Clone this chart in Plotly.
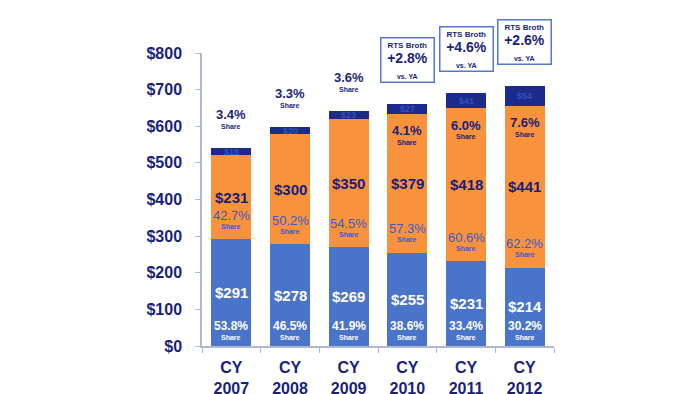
import plotly.graph_objects as go

categories = ["CY<br>2007", "CY<br>2008", "CY<br>2009", "CY<br>2010", "CY<br>2011", "CY<br>2012"]
base_values = [291, 278, 269, 255, 231, 214]
base_share = ["53.8%", "46.5%", "41.9%", "38.6%", "33.4%", "30.2%"]
mid_values = [231, 300, 350, 379, 418, 441]
mid_share = ["42.7%", "50.2%", "54.5%", "57.3%", "60.6%", "62.2%"]
top_values = [18, 20, 23, 27, 41, 54]
top_share = ["3.4%", "3.3%", "3.6%", "4.1%", "6.0%", "7.6%"]
rts_growth = [None, None, None, "+2.8%", "+4.6%", "+2.6%"]
y_ticks = [0, 100, 200, 300, 400, 500, 600, 700, 800]

BLUE = "#4a74c9"
ORANGE = "#f8923c"
NAVY = "#1c2a8c"
TXT = "#1a1f7a"
FONT = "Liberation Sans, Arial, sans-serif"

fig = go.Figure()
fig.add_bar(x=categories, y=base_values, marker_color=BLUE, marker_line_width=0)
fig.add_bar(x=categories, y=mid_values, marker_color=ORANGE, marker_line_width=0)
fig.add_bar(x=categories, y=top_values, marker_color=NAVY, marker_line_width=0)

ann = []
def a(x, y, text, size, color, weight="bold"):
    ann.append(dict(x=x, y=y, xref="x", yref="y", text=text, showarrow=False,
                    font=dict(size=size, color=color, family=FONT, weight=weight)))

for i, c in enumerate(categories):
    b, m, t = base_values[i], mid_values[i], top_values[i]
    total = b + m + t
    # base segment
    a(c, b / 2, f"${b}", 15, "white")
    a(c, 55, base_share[i], 12, "white")
    a(c, 23, "Share", 7, "white")
    # middle segment
    a(c, b + m / 2, f"${m}", 15, TXT)
    a(c, b + 66, mid_share[i], 13, "#3a5ad0", "normal")
    a(c, b + 35, "Share", 7, "#3a5ad0")
    # top segment
    a(c, b + m + t / 2, f"${t}", 9, "#3550c0")
    if i < 3:
        a(c, total + 91, top_share[i], 13, TXT)
        a(c, total + 59, "Share", 7, TXT)
    else:
        a(c, b + m - 46, top_share[i], 13, TXT)
        a(c, b + m - 77, "Share", 7, TXT)
    if rts_growth[i]:
        ann.append(dict(
            x=c, y=total + 58, xref="x", yref="y", yanchor="bottom", showarrow=False,
            text=("<span style='font-size:8px'>RTS Broth</span><br>"
                  f"<span style='font-size:14px'>{rts_growth[i]}</span><br>"
                  "<span style='font-size:7px'>vs. YA</span>"),
            font=dict(size=12, color=TXT, family=FONT, weight="bold"),
            bordercolor="#5577cc", borderwidth=1.5, borderpad=2,
            bgcolor="white", width=48, align="center"))

fig.update_layout(
    barmode="stack", bargap=0.32, showlegend=False,
    width=700, height=394,
    margin=dict(l=194, r=154, t=45, b=56),
    paper_bgcolor="white", plot_bgcolor="white",
    annotations=ann,
    font=dict(family=FONT, color=TXT),
)
fig.update_xaxes(
    type="category", tickson="boundaries", ticks="outside", ticklen=5,
    tickcolor="#b0b8d0", showline=True, linecolor="#b0b8d0", linewidth=1.5,
    tickfont=dict(size=16, color=TXT, family=FONT, weight="bold"),
    showgrid=False, automargin=False, ticklabelstandoff=6,
)
fig.update_yaxes(
    range=[0, 800], tickvals=y_ticks, ticktext=[f"${v}" for v in y_ticks],
    ticks="outside", ticklen=5, tickcolor="#b0b8d0",
    showline=True, linecolor="#b0b8d0", linewidth=1.5, showgrid=False,
    zeroline=False, ticklabelstandoff=10, automargin=False,
    tickfont=dict(size=16, color=TXT, family=FONT, weight="bold"),
)

fig.write_html("out.html")
